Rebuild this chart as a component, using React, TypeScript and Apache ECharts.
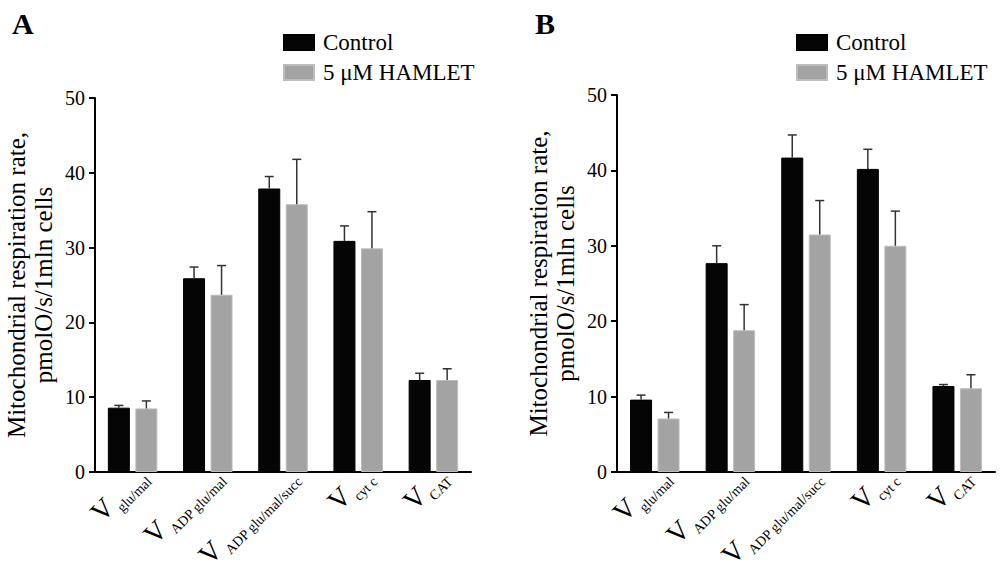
import React, { useEffect, useRef } from "react";
import * as echarts from "echarts";

const categories = ["glu/mal", "ADP glu/mal", "ADP glu/mal/succ", "cyt c", "CAT"];
const seriesNames = ["Control", "5 μM HAMLET"];

const controlA = [8.6, 25.9, 37.9, 30.9, 12.3];
const controlAErr = [0.3, 1.5, 1.6, 2.0, 0.9];
const hamletA = [8.5, 23.7, 35.8, 29.9, 12.3];
const hamletAErr = [1.0, 3.9, 6.0, 4.9, 1.5];

const controlB = [9.6, 27.7, 41.7, 40.2, 11.4];
const controlBErr = [0.6, 2.3, 3.0, 2.6, 0.2];
const hamletB = [7.1, 18.8, 31.5, 30.0, 11.1];
const hamletBErr = [0.8, 3.4, 4.5, 4.6, 1.8];

const yTicks = { min: 0, max: 50, interval: 10 };

const FONT = "'Liberation Serif', 'Times New Roman', serif";
const BAR_W = 22;
const BAR_OFFSET = 13.75;
const COLORS = ["#050505", "#a3a3a3"];

function errorSeries(gridIdx: number, values: number[], errs: number[], offset: number) {
  return {
    type: "custom",
    xAxisIndex: gridIdx,
    yAxisIndex: gridIdx,
    z: 5,
    silent: true,
    data: values.map((v, i) => [i, v, errs[i]]),
    renderItem: (params: any, api: any) => {
      const idx = api.value(0);
      const v = api.value(1);
      const e = api.value(2);
      const p0 = api.coord([idx, v]);
      const p1 = api.coord([idx, v + e]);
      const x = p0[0] + offset;
      return {
        type: "group",
        children: [
          {
            type: "line",
            shape: { x1: x, y1: p0[1], x2: x, y2: p1[1] },
            style: { stroke: "#333", lineWidth: 1.5 },
          },
          {
            type: "line",
            shape: { x1: x - 4.5, y1: p1[1], x2: x + 4.5, y2: p1[1] },
            style: { stroke: "#333", lineWidth: 1.5 },
          },
        ],
      };
    },
  };
}

function xAxisFor(gridIndex: number) {
  return {
    type: "category",
    gridIndex,
    data: categories,
    axisLine: { lineStyle: { color: "#000", width: 2 } },
    axisTick: { alignWithLabel: true, length: 7, lineStyle: { color: "#000", width: 2 } },
    axisLabel: {
      rotate: 45,
      interval: 0,
      margin: 13,
      fontFamily: FONT,
      fontSize: 14,
      color: "#000",
      formatter: (v: string) => `{v|V}{s|${v}}`,
      rich: {
        v: { fontFamily: FONT, fontSize: 28, lineHeight: 30, color: "#000", padding: [0, 0, 8, 0] },
        s: { fontFamily: FONT, fontSize: 14, lineHeight: 14, color: "#000", verticalAlign: "bottom", padding: [0, -16, 0, 2] },
      },
    },
  };
}

function yAxisFor(gridIndex: number) {
  return {
    type: "value",
    gridIndex,
    min: yTicks.min,
    max: yTicks.max,
    interval: yTicks.interval,
    splitLine: { show: false },
    axisLine: { show: true, lineStyle: { color: "#000", width: 2 } },
    axisTick: { show: true, length: 6, lineStyle: { color: "#000", width: 2 } },
    axisLabel: { fontFamily: FONT, fontSize: 20, color: "#000", margin: 10 },
    name: "Mitochondrial respiration rate,\npmolO/s/1mln cells",
    nameLocation: "middle",
    nameRotate: 90,
    nameGap: 38,
    nameTextStyle: { fontFamily: FONT, fontSize: 25, lineHeight: 27, color: "#000" },
  };
}

function barSeries(gridIdx: number, name: string, values: number[], color: string, border: string) {
  return {
    type: "bar",
    name,
    xAxisIndex: gridIdx,
    yAxisIndex: gridIdx,
    data: values,
    barWidth: BAR_W,
    barGap: "25%",
    itemStyle: { color, borderColor: border, borderWidth: 1 },
  };
}

function legendAt(left: number) {
  return {
    left,
    top: 31,
    padding: 0,
    orient: "vertical",
    itemWidth: 30,
    itemHeight: 15,
    itemGap: 7,
    icon: "rect",
    selectedMode: false,
    data: seriesNames,
    textStyle: { fontFamily: FONT, fontSize: 23, color: "#000", padding: [0, 0, 0, 4] },
  };
}

export default function App() {
  const ref = useRef<HTMLDivElement>(null);
  useEffect(() => {
    document.body.style.margin = "0";
    const chart = echarts.init(ref.current!, null, { renderer: "svg" });
    chart.setOption({
      animation: false,
      backgroundColor: "#fff",
      textStyle: { fontFamily: FONT, color: "#000" },
      title: [
        { text: "A", left: 12, top: 8, padding: 0, textStyle: { fontFamily: FONT, fontSize: 30, fontWeight: "bold", color: "#000" } },
        { text: "B", left: 535, top: 8, padding: 0, textStyle: { fontFamily: FONT, fontSize: 30, fontWeight: "bold", color: "#000" } },
      ],
      legend: [legendAt(283), legendAt(796)],
      grid: [
        { left: 95, top: 98, width: 376, height: 374, outerBoundsMode: "none", containLabel: false },
        { left: 617, top: 95, width: 378, height: 377, outerBoundsMode: "none", containLabel: false },
      ],
      xAxis: [xAxisFor(0), xAxisFor(1)],
      yAxis: [yAxisFor(0), yAxisFor(1)],
      series: [
        barSeries(0, seriesNames[0], controlA, COLORS[0], "#000"),
        barSeries(0, seriesNames[1], hamletA, COLORS[1], "#bdbdbd"),
        barSeries(1, seriesNames[0], controlB, COLORS[0], "#000"),
        barSeries(1, seriesNames[1], hamletB, COLORS[1], "#bdbdbd"),
        errorSeries(0, controlA, controlAErr, -BAR_OFFSET),
        errorSeries(0, hamletA, hamletAErr, BAR_OFFSET),
        errorSeries(1, controlB, controlBErr, -BAR_OFFSET),
        errorSeries(1, hamletB, hamletBErr, BAR_OFFSET),
      ],
    });
    return () => chart.dispose();
  }, []);
  return <div ref={ref} style={{ width: 1002, height: 579 }} />;
}
